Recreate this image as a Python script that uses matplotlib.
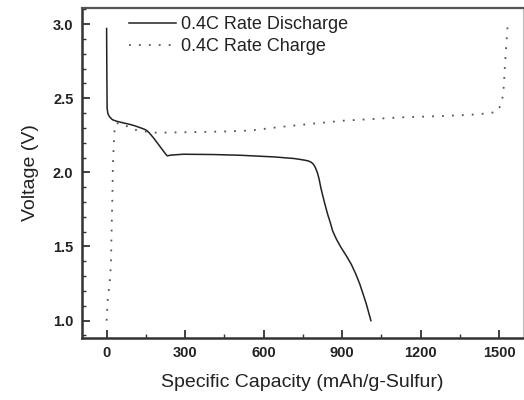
import matplotlib
matplotlib.use("Agg")
import matplotlib.pyplot as plt
from matplotlib.ticker import MultipleLocator

plt.rcParams['font.family'] = ['Liberation Sans', 'DejaVu Sans']

# Discharge curve (mAh/g, V)
discharge_cap = [0, 1, 2, 5, 11, 22, 37, 60, 80, 100, 114, 130, 145, 155, 165,
                 178, 191, 210, 225, 232, 245, 293, 409, 512, 640, 717, 740,
                 760, 772, 782, 790, 797, 805, 812, 819, 832, 845, 855, 864,
                 878, 896, 915, 935, 952, 967, 980, 992, 1010]
discharge_v = [2.97, 2.65, 2.43, 2.395, 2.375, 2.355, 2.345, 2.335, 2.327,
               2.318, 2.31, 2.30, 2.29, 2.28, 2.262, 2.235, 2.205, 2.16, 2.125,
               2.111, 2.116, 2.122, 2.12, 2.115, 2.104, 2.093, 2.087, 2.081,
               2.076, 2.068, 2.055, 2.035, 2.0, 1.955, 1.893, 1.80, 1.715, 1.66,
               1.604, 1.55, 1.493, 1.44, 1.38, 1.315, 1.249, 1.18, 1.115, 1.0]

# Charge curve (mAh/g, V)
charge_cap = [0, 5, 11.5, 16.5, 19, 22, 24, 29.5, 35, 56, 101, 133, 191, 332,
              460, 550, 653, 781, 909, 973, 1127, 1255, 1383, 1460, 1492, 1505,
              1512, 1518, 1522, 1527, 1532]
charge_v = [1.0, 1.16, 1.25, 1.38, 1.60, 1.83, 2.05, 2.27, 2.33, 2.331, 2.29,
            2.278, 2.267, 2.271, 2.276, 2.282, 2.304, 2.327, 2.349, 2.355,
            2.371, 2.378, 2.387, 2.398, 2.409, 2.449, 2.493, 2.582, 2.716,
            2.849, 2.982]

series_labels = ["0.4C Rate Discharge", "0.4C Rate Charge"]
x_ticks = [0, 300, 600, 900, 1200, 1500]
y_ticks = [1.0, 1.5, 2.0, 2.5, 3.0]

fig = plt.figure(figsize=(5.24, 4.0), dpi=100)
ax = fig.add_axes([0.156, 0.155, 0.8415, 0.825])

ax.plot(discharge_cap, discharge_v, color='#222222', lw=1.1, label=series_labels[0])
ax.plot(charge_cap, charge_v, color='#555555', lw=1.3, linestyle=(0, (1, 4.5)),
        label=series_labels[1])

ax.set_xlim(-95, 1590)
ax.set_ylim(0.883, 3.108)
ax.set_xticks(x_ticks)
ax.set_yticks(y_ticks)
ax.set_yticklabels([f"{v:.1f}" for v in y_ticks])
ax.xaxis.set_minor_locator(MultipleLocator(150))
ax.yaxis.set_minor_locator(MultipleLocator(0.1))
ax.tick_params(which='both', direction='in', top=False, right=False, colors='#333333',
               labelsize=10.5, labelcolor='#222222')
ax.tick_params(which='major', length=6, width=1.3, pad=6)
ax.tick_params(which='minor', length=3, width=1.0)
for lab in ax.get_xticklabels() + ax.get_yticklabels():
    lab.set_fontweight('bold')

for s in ['left', 'bottom']:
    ax.spines[s].set_linewidth(1.8)
    ax.spines[s].set_color('#333333')
ax.spines['top'].set_linewidth(1.6)
ax.spines['top'].set_color('#555555')
ax.spines['right'].set_linewidth(0.8)
ax.spines['right'].set_color('#bbbbbb')

ax.set_xlabel("Specific Capacity (mAh/g-Sulfur)", fontsize=14, color='#222222', labelpad=10)
ax.set_ylabel("Voltage (V)", fontsize=14, color='#222222', labelpad=10)

leg = ax.legend(loc='upper left', bbox_to_anchor=(0.07, 1.025), frameon=False,
                fontsize=13, handlelength=2.6, handletextpad=0.3, labelspacing=0.3)
for t in leg.get_texts():
    t.set_color('#222222')

fig.savefig("out.png", dpi=100)
